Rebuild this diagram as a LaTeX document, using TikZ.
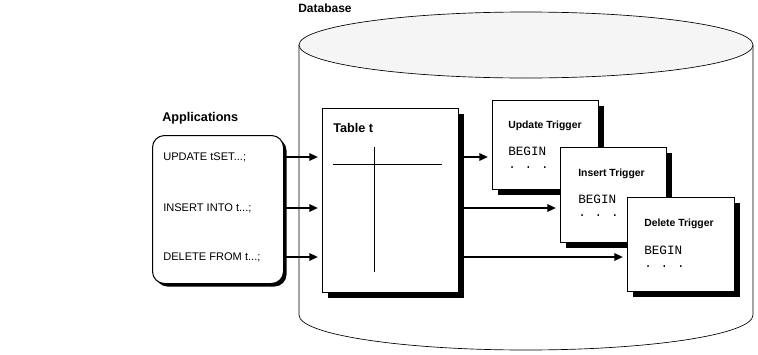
\documentclass[tikz,border=0pt]{standalone}
\usepackage{fontspec}
\setmainfont{Liberation Sans}
\setmonofont{Liberation Mono}
\usetikzlibrary{arrows.meta,shadows}

\begin{document}
\begin{tikzpicture}[x=0.75pt,y=-0.75pt,
  box/.style={draw,fill=white,line width=0.75pt,anchor=north west,inner sep=0pt,
    drop shadow={shadow xshift=3.75pt,shadow yshift=-3.75pt,fill=black,opacity=1}},
  appbox/.style={draw,fill=white,line width=0.75pt,anchor=north west,inner sep=0pt,
    rounded corners=9pt,
    drop shadow={shadow xshift=2.25pt,shadow yshift=-2.25pt,fill=black,opacity=1}},
  title/.style={anchor=west,font=\bfseries\fontsize{9.5}{11}\selectfont,inner sep=0pt},
  trigtitle/.style={anchor=west,font=\bfseries\fontsize{7.8}{9}\selectfont,inner sep=0pt},
  sql/.style={anchor=west,font=\fontsize{8.3}{10}\selectfont,inner sep=0pt},
  code/.style={anchor=base west,font=\ttfamily\fontsize{9.5}{11}\selectfont,inner sep=0pt},
  arr/.style={line width=1.5pt,-{Triangle[length=6.5pt,width=5.5pt]},shorten >=3pt}]
\useasboundingbox (0,0) rectangle (758,354);
% database cylinder
\draw[line width=0.5pt] (299,45) -- (299,315) arc[start angle=180,end angle=0,x radius=227,y radius=35] -- (753,45);
\draw[line width=0.5pt,fill=black!4] (526,45) ellipse[x radius=227,y radius=33];
\node[title,font=\bfseries\fontsize{9}{11}\selectfont] (dblabel) at (298,8) {Database};
% applications
\node[title] (applabel) at (162,118) {Applications};
\node[appbox,minimum width=98.25pt,minimum height=111pt] (apps) at (152,135) {};
\node[sql] (updsql) at (163,157) {UPDATE tSET...;};
\node[sql] (inssql) at (163,208) {INSERT INTO t...;};
\node[sql] (delsql) at (163,257) {DELETE FROM t...;};
% table
\node[box,minimum width=102pt,minimum height=138pt] (table) at (322,108) {};
\node[title] (tablabel) at (333,128) {Table t};
\draw[line width=0.5pt] (333,164) -- (442,164);
\draw[line width=0.5pt] (374,147) -- (374,272);
% triggers
\node[box,minimum width=79.5pt,minimum height=66.75pt] (upd) at (492,100) {};
\node[trigtitle] at ([shift={(16,26)}]upd.north west) {Update Trigger};
\node[code] at ([shift={(16,55)}]upd.north west) {BEGIN};
\node[code] at ([shift={(16,68)}]upd.north west) {.\hspace{6.6pt}.\hspace{6.6pt}.};
\node[box,minimum width=79.5pt,minimum height=71.25pt] (ins) at (560,147) {};
\node[trigtitle] at ([shift={(18,27)}]ins.north west) {Insert Trigger};
\node[code] at ([shift={(18,56)}]ins.north west) {BEGIN};
\node[code] at ([shift={(18,69)}]ins.north west) {.\hspace{6.6pt}.\hspace{6.6pt}.};
\node[box,minimum width=80.25pt,minimum height=70.5pt] (del) at (627,197) {};
\node[trigtitle] at ([shift={(17,27)}]del.north west) {Delete Trigger};
\node[code] at ([shift={(17,57)}]del.north west) {BEGIN};
\node[code] at ([shift={(17,70)}]del.north west) {.\hspace{6.6pt}.\hspace{6.6pt}.};
% statements
\draw[arr] (apps.east |- updsql) -- (table.west |- updsql);
\draw[arr] (apps.east |- inssql) -- (table.west |- inssql);
\draw[arr] (apps.east |- delsql) -- (table.west |- delsql);
\draw[arr] (table.east |- updsql) -- (upd.west |- updsql);
\draw[arr] (table.east |- inssql) -- (ins.west |- inssql);
\draw[arr] (table.east |- delsql) -- (del.west |- delsql);
\end{tikzpicture}
\end{document}
